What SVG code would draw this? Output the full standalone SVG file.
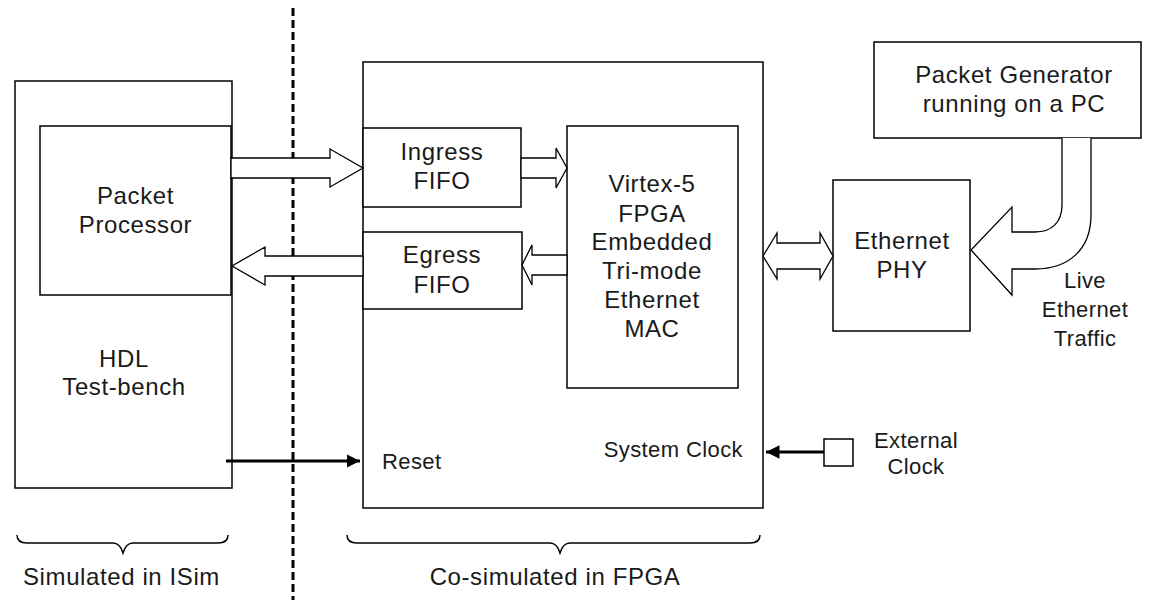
<svg xmlns="http://www.w3.org/2000/svg" width="1149" height="600" viewBox="0 0 1149 600">
<style>
.box{fill:#fff;stroke:#000;stroke-width:1.5}
.blk{fill:#fff;stroke:#000;stroke-width:1.3;stroke-linejoin:miter}
.t{font-family:"Liberation Sans",Arial,sans-serif;font-size:24px;fill:#1a1a1a;text-anchor:middle;letter-spacing:0.6px}
.s{font-family:"Liberation Sans",Arial,sans-serif;font-size:22px;fill:#1a1a1a;text-anchor:middle;letter-spacing:0.4px}
.thick{stroke:#000;stroke-width:3;fill:none}
.brace{fill:none;stroke:#000;stroke-width:1.5}
</style>
<defs>
<marker id="ah" viewBox="0 0 10 10" refX="10" refY="5" markerWidth="4.5" markerHeight="4.5" orient="auto" markerUnits="strokeWidth">
<path d="M0,0 L10,5 L0,10 z" fill="#000"/>
</marker>
</defs>
<rect width="1149" height="600" fill="#fff"/>

<line x1="293" y1="8" x2="293" y2="600" stroke="#000" stroke-width="3" stroke-dasharray="8 4"/>

<g id="hdl-testbench">
<rect class="box" x="15" y="81" width="217" height="407"/>
<text class="t" x="124" y="367">HDL</text>
<text class="t" x="124" y="395">Test-bench</text>
</g>
<g id="packet-processor">
<rect class="box" x="40" y="126" width="191" height="169"/>
<text class="t" x="135.5" y="204">Packet</text>
<text class="t" x="135.5" y="233">Processor</text>
</g>
<g id="fpga">
<rect class="box" x="363" y="62" width="400" height="446"/>
<text class="s" x="382" y="469" style="text-anchor:start">Reset</text>
<text class="s" x="743" y="457" style="text-anchor:end">System Clock</text>
</g>
<g id="ingress-fifo">
<rect class="box" x="363" y="128" width="158" height="79"/>
<text class="t" x="442" y="160">Ingress</text>
<text class="t" x="442" y="189">FIFO</text>
</g>
<g id="egress-fifo">
<rect class="box" x="363" y="232" width="159" height="77"/>
<text class="t" x="442" y="263">Egress</text>
<text class="t" x="442" y="293">FIFO</text>
</g>
<g id="virtex-mac">
<rect class="box" x="567" y="126" width="171" height="262"/>
<text class="t" x="652" y="192">Virtex-5</text>
<text class="t" x="652" y="222">FPGA</text>
<text class="t" x="652" y="250">Embedded</text>
<text class="t" x="652" y="279">Tri-mode</text>
<text class="t" x="652" y="308">Ethernet</text>
<text class="t" x="652" y="337">MAC</text>
</g>
<g id="ethernet-phy">
<rect class="box" x="833" y="180" width="137" height="151"/>
<text class="t" x="902" y="249">Ethernet</text>
<text class="t" x="902" y="278">PHY</text>
</g>
<g id="packet-generator">
<rect class="box" x="874" y="42" width="267" height="96"/>
<text class="t" x="1014" y="83">Packet Generator</text>
<text class="t" x="1014" y="112">running on a PC</text>
</g>
<g id="external-clock">
<rect class="box" x="824" y="439" width="29" height="27"/>
<text class="s" x="916" y="448">External</text>
<text class="s" x="916" y="474">Clock</text>
</g>
<g id="live-traffic-label">
<text class="s" x="1085" y="288">Live</text>
<text class="s" x="1085" y="317">Ethernet</text>
<text class="s" x="1085" y="346">Traffic</text>
</g>

<g id="connectors">
<polygon class="blk" points="231,158 330,158 330,149 363,168 330,187 330,178 231,178"/>
<polygon class="blk" points="363,256 265,256 265,247 232,266 265,285 265,276 363,276"/>
<polygon class="blk" points="521,158 556,158 556,148 567,168 556,188 556,178 521,178"/>
<polygon class="blk" points="567,255 532,255 532,245 522,265 532,285 532,275 567,275"/>
<polygon class="blk" points="763,256 777,233 777,243 820,243 820,233 833,256 820,279 820,269 777,269 777,279"/>
<path class="blk" d="M1062,138 L1062,205 C1062,222 1052,232 1035,232 L1012,232 L1012,207 L971,250 L1012,295 L1012,269 L1035,269 C1068,269 1091,250 1091,215 L1091,138"/>
<line class="thick" x1="226" y1="461" x2="360" y2="461" marker-end="url(#ah)"/>
<line class="thick" x1="824" y1="452" x2="766" y2="452" marker-end="url(#ah)"/>
</g>

<g id="braces">
<path class="brace" d="M17,535 Q17,543 27,543 L113,543 Q120,543 123,553 Q126,543 133,543 L218,543 Q228,543 228,535"/>
<path class="brace" d="M347,535 Q347,543 357,543 L550,543 Q557,543 560,553 Q563,543 570,543 L750,543 Q760,543 760,535"/>
<text class="t" x="121.5" y="585">Simulated in ISim</text>
<text class="t" x="555" y="585">Co-simulated in FPGA</text>
</g>
</svg>
